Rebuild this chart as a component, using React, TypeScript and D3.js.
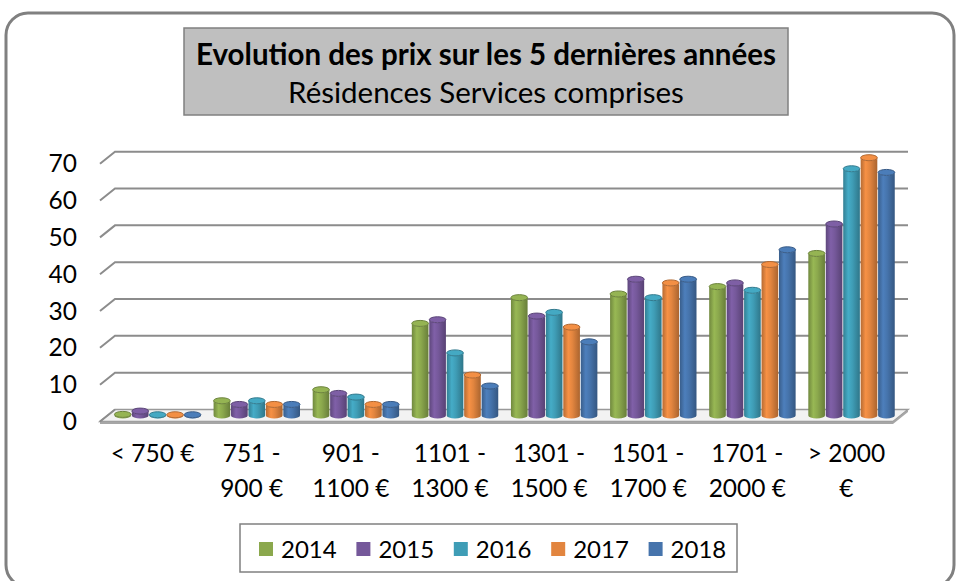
import React from "react";
import * as d3 from "d3";

const categories = ["< 750 €", "751 - 900 €", "901 - 1100 €", "1101 - 1300 €", "1301 - 1500 €", "1501 - 1700 €", "1701 - 2000 €", "> 2000 €"];
const labelLines = [["< 750 €"], ["751 -", "900 €"], ["901 -", "1100 €"], ["1101 -", "1300 €"], ["1301 -", "1500 €"], ["1501 -", "1700 €"], ["1701 -", "2000 €"], ["> 2000", "€"]];
const series = ["2014", "2015", "2016", "2017", "2018"];
const v2014 = [0.3, 4, 7, 25, 32, 33, 35, 44];
const v2015 = [1.2, 3, 6, 26, 27, 37, 36, 52];
const v2016 = [0.2, 4, 5, 17, 28, 32, 34, 67];
const v2017 = [0.2, 3, 3, 11, 24, 36, 41, 70];
const v2018 = [0.2, 3, 3, 8, 20, 37, 45, 66];
const values = [v2014, v2015, v2016, v2017, v2018];
const colors = ["#8BA84D", "#75589A", "#3F9DB6", "#E2853F", "#4674AC"];
const yTicks = [0, 10, 20, 30, 40, 50, 60, 70];

const FONT = "Lato, 'Open Sans', sans-serif";

export default function App() {
  const W = 956, H = 581;
  const left = 100, right = 893;
  const dx = 15, dy = 12;
  const x0 = d3.scaleBand<string>().domain(categories).range([left, right]).paddingInner(0.12).paddingOuter(0.06);
  const x1 = d3.scaleBand<string>().domain(series).range([0, x0.bandwidth()]);
  const y = d3.scaleLinear().domain([0, 70]).range([415.5, 157.7]);
  const step = x0.step();
  const ry = 3;

  return (
    <svg width={W} height={H} style={{ position: "absolute", left: 0, top: 0 }} fontFamily={FONT}>
      <defs>
        {colors.map((c, i) => {
          const base = d3.color(c)!;
          return (
            <linearGradient key={i} id={`cyl${i}`} x1="0" x2="1" y1="0" y2="0">
              <stop offset="0%" stopColor={base.darker(0.6).formatHex()} />
              <stop offset="30%" stopColor={base.brighter(0.25).formatHex()} />
              <stop offset="55%" stopColor={c} />
              <stop offset="100%" stopColor={base.darker(0.8).formatHex()} />
            </linearGradient>
          );
        })}
      </defs>
      <rect x={0} y={0} width={W} height={H} fill="#fff" />
      <rect x={6} y={13} width={948} height={574} rx={22} fill="#fff" stroke="#808080" strokeWidth={3} />

      {/* Title */}
      <rect x={184} y={28} width={604} height={87} fill="#BFBFBF" stroke="#808080" strokeWidth={1.5} />
      <text x={486} y={65} textAnchor="middle" fontSize={29.5} fontWeight="bold" fill="#000">Evolution des prix sur les 5 dernières années</text>
      <text x={486} y={103} textAnchor="middle" fontSize={29.5} fill="#000">Résidences Services comprises</text>

      {/* Floor */}
      <polygon points={`${left},${y(0) + dy / 2} ${right},${y(0) + dy / 2} ${right + dx},${y(0) - dy / 2} ${left + dx},${y(0) - dy / 2}`} fill="#f2f2f2" stroke="#999" strokeWidth={1.5} />
      <rect x={left} y={y(0) + dy / 2} width={right - left} height={2.5} fill="#a6a6a6" />
      <polygon points={`${right},${y(0) + dy / 2 + 2.5} ${right},${y(0) + dy / 2} ${right + dx},${y(0) - dy / 2} ${right + dx},${y(0) - dy / 2 + 2.5}`} fill="#a6a6a6" />

      {/* Gridlines */}
      {yTicks.filter(t => t > 0).map(t => (
        <g key={t}>
          <polyline points={`${left},${y(t) + dy / 2} ${left + dx},${y(t) - dy / 2} ${right + dx},${y(t) - dy / 2}`} fill="none" stroke="#8c8c8c" strokeWidth={2} />
        </g>
      ))}
      <line x1={left} y1={y(0) + dy / 2} x2={left + dx} y2={y(0) - dy / 2} stroke="#8c8c8c" strokeWidth={2} />

      {/* Y tick labels */}
      {yTicks.map(t => (
        <text key={t} x={77} y={y(t) + dy / 2 + 8.5} textAnchor="end" fontSize={24.5} fill="#000">{t}</text>
      ))}

      {/* Bars */}
      {categories.map((cat, ci) => (
        <g key={cat}>
          {series.map((s, si) => {
            const v = values[si][ci];
            const bx = (x0(cat) as number) + (x1(s) as number) + dx / 2 + 1;
            const bw = x1.bandwidth() - 0.8;
            const yTop = y(v);
            const yBot = y(0);
            const cx = bx + bw / 2;
            const c = d3.color(colors[si])!;
            return (
              <g key={s}>
                <path d={`M${bx},${yBot} L${bx},${yTop} A${bw / 2},${ry} 0 0 0 ${bx + bw},${yTop} L${bx + bw},${yBot} A${bw / 2},${ry} 0 0 1 ${bx},${yBot} Z`} fill={`url(#cyl${si})`} />
                <ellipse cx={cx} cy={yTop} rx={bw / 2} ry={ry} fill={c.brighter(0.2).formatHex()} stroke={c.darker(0.7).formatHex()} strokeWidth={1} />
              </g>
            );
          })}
        </g>
      ))}

      {/* Category labels */}
      {categories.map((cat, ci) => {
        const cx = (x0(cat) as number) - x0.paddingOuter() * step + step / 2 + 3;
        return (
          <text key={cat} textAnchor="middle" fontSize={24.5} fill="#000">
            {labelLines[ci].map((ln, li) => (
              <tspan key={li} x={cx} y={462 + li * 35}>{ln}</tspan>
            ))}
          </text>
        );
      })}

      {/* Legend */}
      <rect x={240} y={524} width={497} height={48} fill="#fff" stroke="#808080" strokeWidth={1.5} />
      {series.map((s, i) => (
        <g key={s} transform={`translate(${259 + i * 97.4},0)`}>
          <rect x={0} y={542} width={14} height={14} fill={colors[i]} />
          <text x={22} y={557.5} fontSize={24} fill="#000">{s}</text>
        </g>
      ))}
    </svg>
  );
}
